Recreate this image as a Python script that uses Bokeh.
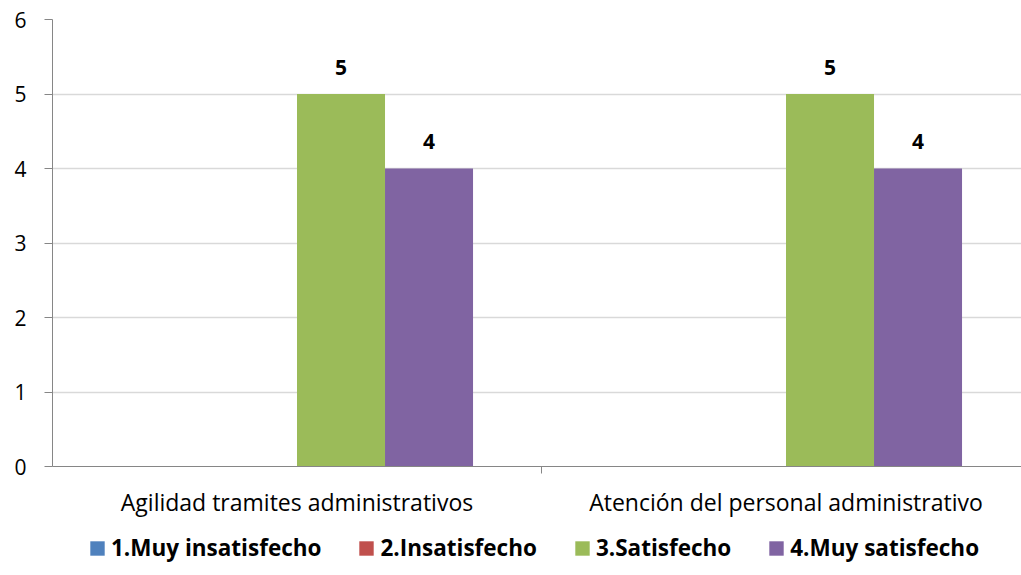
from bokeh.plotting import figure
from bokeh.models import ColumnDataSource, FixedTicker, Legend, LegendItem, Range1d
from bokeh.layouts import column
from bokeh.core.properties import value
from bokeh.embed import file_html
from bokeh.resources import INLINE

categories = ["Agilidad tramites administrativos", "Atención del personal administrativo"]
series_names = ["1.Muy insatisfecho", "2.Insatisfecho", "3.Satisfecho", "4.Muy satisfecho"]
s1 = [0, 0]
s2 = [0, 0]
s3 = [5, 5]
s4 = [4, 4]
colors = ["#4F81BD", "#C0504D", "#9BBB59", "#8064A2"]
y_ticks = [0, 1, 2, 3, 4, 5, 6]

FONT = "Open Sans"
centers = [0.5, 1.5]
bw = 0.18
offsets = [-1.5 * bw, -0.5 * bw, 0.5 * bw, 1.5 * bw]

p = figure(width=1021, height=520, output_backend="svg", toolbar_location=None,
           x_range=Range1d(0, 1.9816), y_range=Range1d(0, 6),
           min_border_left=52, min_border_right=0, min_border_top=19,
           min_border_bottom=53)
p.outline_line_color = None
p.background_fill_color = "white"
p.border_fill_color = "white"

for vals, off, col in zip([s1, s2, s3, s4], offsets, colors):
    xs = [c + off for c in centers]
    src = ColumnDataSource(dict(x=xs, top=vals,
                                lbl=[str(v) if v else "" for v in vals]))
    p.vbar(x="x", top="top", width=bw, source=src, fill_color=col, line_color=None)
    p.text(x="x", y="top", text="lbl", source=src, text_align="center",
           text_baseline="middle", y_offset=-27, text_font=value(FONT),
           text_font_style="bold", text_font_size="21px", text_color="black")

# axes
xa = p.xaxis[0]
xa.ticker = FixedTicker(ticks=centers, minor_ticks=[1.0])
xa.major_label_overrides = {0.5: categories[0], 1.5: categories[1]}
xa.major_tick_line_color = None
xa.major_tick_out = 0
xa.major_tick_in = 0
xa.minor_tick_line_color = "#868686"
xa.minor_tick_out = 7
xa.minor_tick_in = 0
xa.axis_line_color = "#868686"
xa.major_label_text_font = FONT
xa.major_label_text_font_size = "23px"
xa.major_label_text_color = "black"
xa.major_label_standoff = 12

ya = p.yaxis[0]
ya.ticker = FixedTicker(ticks=y_ticks)
ya.minor_tick_line_color = None
ya.major_tick_line_color = "#868686"
ya.major_tick_out = 8
ya.major_tick_in = 0
ya.axis_line_color = "#868686"
ya.major_label_text_font = FONT
ya.major_label_text_font_size = "21px"
ya.major_label_text_color = "black"
ya.major_label_standoff = 18

p.xgrid.grid_line_color = None
p.ygrid.ticker = FixedTicker(ticks=y_ticks)
p.ygrid.grid_line_color = "#D9D9D9"
p.ygrid.grid_line_width = 1.5

# legend strip
lg = figure(width=1021, height=55, output_backend="svg", toolbar_location=None,
            x_range=Range1d(0, 1), y_range=Range1d(0, 1),
            x_axis_location=None, y_axis_location=None,
            min_border=0, min_border_left=0, min_border_right=0,
            min_border_top=0, min_border_bottom=0)
lg.outline_line_color = None
lg.xgrid.visible = False
lg.ygrid.visible = False
items = []
for name, col in zip(series_names, colors):
    r = lg.vbar(x=[5], top=[0], width=0.1, fill_color=col, line_color=None)
    items.append(LegendItem(label=name, renderers=[r]))
legend = Legend(items=items, orientation="horizontal", location=(36, 12),
                label_text_font=FONT, label_text_font_style="bold",
                label_text_font_size="22.5px", label_text_color="black",
                glyph_width=18, glyph_height=18, spacing=36, label_standoff=5,
                border_line_color=None, background_fill_alpha=0, padding=0, margin=0)
lg.add_layout(legend, "center")

layout = column(p, lg, spacing=0)
open("out.html", "w").write(file_html(layout, INLINE))
